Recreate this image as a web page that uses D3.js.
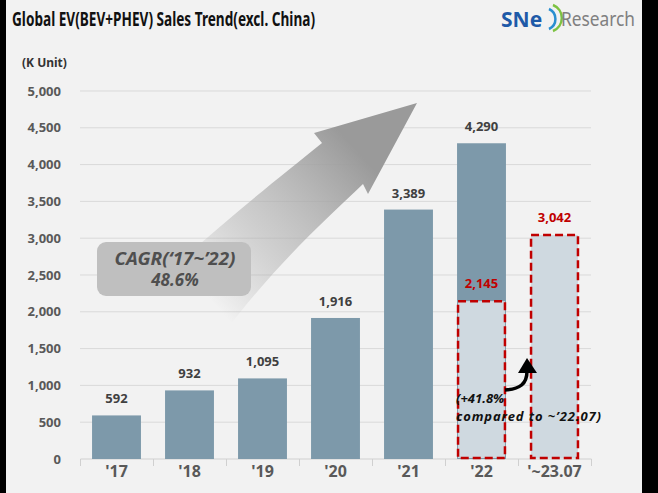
<!DOCTYPE html>
<html>
<head>
<meta charset="utf-8">
<script src="https://cdn.jsdelivr.net/npm/d3@7"></script>
<style>
  html, body { margin: 0; padding: 0; background: #000; }
  svg { display: block; }
</style>
</head>
<body>
<svg id="chart" width="658" height="493"></svg>
<script>
const categories = ["'17", "'18", "'19", "'20", "'21", "'22", "'~23.07"];
const annualValues = [592, 932, 1095, 1916, 3389, 4290, null];
const ytdValues = [null, null, null, null, null, 2145, 3042];
const yTicks = [0, 500, 1000, 1500, 2000, 2500, 3000, 3500, 4000, 4500, 5000];
const titleText = "Global EV(BEV+PHEV)  Sales Trend(excl. China)";
const unitText = "(K Unit)";
const cagrLines = ["CAGR(\u201817~\u201922)", "48.6%"];
const noteLines = ["(+41.8%", "compared to ~\u201922.07)"];

const svg = d3.select("#chart");
const font = "'Noto Sans', 'Open Sans', sans-serif";

// frame
svg.append("rect").attr("x", 6).attr("y", 0).attr("width", 636).attr("height", 493).attr("fill", "#f2f2f2");

const x = d3.scaleBand().domain(categories).range([80, 591]).paddingInner(0.33).paddingOuter(0.165);
const y = d3.scaleLinear().domain([0, 5000]).range([459, 91]);

// gridlines
svg.append("g").selectAll("line").data(yTicks.filter(d => d > 0)).join("line")
  .attr("x1", 80).attr("x2", 591)
  .attr("y1", d => y(d)).attr("y2", d => y(d))
  .attr("stroke", "#d9d9d9").attr("stroke-width", 1);

// y axis labels
const yAxis = d3.axisLeft(y).tickValues(yTicks).tickFormat(d3.format(",")).tickSize(0).tickPadding(0);
const yg = svg.append("g").attr("transform", "translate(61,0)").call(yAxis);
yg.select(".domain").remove();
yg.selectAll("text").attr("font-family", font).attr("font-size", 13).attr("font-weight", "bold").attr("fill", "#595959");

// x axis
const step = x.step();
const xAxis = d3.axisBottom(x).tickSize(0).tickPadding(0);
const xg = svg.append("g").attr("transform", "translate(0,459)").call(xAxis);
xg.select(".domain").attr("stroke", "#d0d0d0").attr("d", "M80.5,0H591.5");
xg.selectAll("text").attr("font-family", font).attr("font-size", 16).attr("font-weight", "bold")
  .attr("fill", "#595959").attr("dy", "1.15em");
// band-boundary ticks
svg.append("g").selectAll("line").data(d3.range(categories.length + 1)).join("line")
  .attr("x1", i => 80 + i * step + 0.5).attr("x2", i => 80 + i * step + 0.5)
  .attr("y1", 459).attr("y2", 466).attr("stroke", "#d0d0d0");

// CAGR arrow with gradient
const defs = svg.append("defs");
const grad = defs.append("linearGradient").attr("id", "arrowGrad")
  .attr("gradientUnits", "userSpaceOnUse")
  .attr("x1", 215).attr("y1", 305).attr("x2", 370).attr("y2", 165);
grad.append("stop").attr("offset", 0).attr("stop-color", "#a0a0a0").attr("stop-opacity", 0);
grad.append("stop").attr("offset", 0.45).attr("stop-color", "#b0b0b0").attr("stop-opacity", 0.6);
grad.append("stop").attr("offset", 1).attr("stop-color", "#9a9a9a").attr("stop-opacity", 1);
svg.append("path")
  .attr("d", "M417,103 L368,194 L363,184 C320,225 270,270 215,345 L140,300 C200,240 270,185 322,143 L314,133 Z")
  .attr("fill", "url(#arrowGrad)");

// bars
const bw = x.bandwidth();
const barData = categories.map((c, i) => ({ c, v: annualValues[i], ytd: ytdValues[i] }));
svg.append("g").selectAll("rect").data(barData.filter(d => d.v != null)).join("rect")
  .attr("x", d => x(d.c)).attr("width", bw)
  .attr("y", d => y(d.v)).attr("height", d => y(0) - y(d.v))
  .attr("fill", "#7d99aa");

svg.append("g").selectAll("rect").data(barData.filter(d => d.ytd != null)).join("rect")
  .attr("x", d => x(d.c) + 1).attr("width", bw - 2)
  .attr("y", d => y(d.ytd)).attr("height", d => y(0) - y(d.ytd) - 1)
  .attr("fill", "#cfd9e0")
  .attr("stroke", "#c00000").attr("stroke-width", 2.5).attr("stroke-dasharray", "8,4");

// value labels
svg.append("g").selectAll("text").data(barData.filter(d => d.v != null)).join("text")
  .attr("x", d => x(d.c) + bw / 2).attr("y", d => y(d.v) - 12)
  .attr("text-anchor", "middle").attr("font-family", font).attr("font-size", 13)
  .attr("font-weight", "bold").attr("fill", "#404040")
  .text(d => d3.format(",")(d.v));
svg.append("g").selectAll("text").data(barData.filter(d => d.ytd != null)).join("text")
  .attr("x", d => x(d.c) + bw / 2).attr("y", d => y(d.ytd) - 13)
  .attr("text-anchor", "middle").attr("font-family", font).attr("font-size", 13)
  .attr("font-weight", "bold").attr("fill", "#c00000")
  .text(d => d3.format(",")(d.ytd));

// CAGR box
svg.append("rect").attr("x", 97).attr("y", 242).attr("width", 154).attr("height", 54)
  .attr("rx", 9).attr("fill", "#bfbfbf");
svg.append("g").selectAll("text").data(cagrLines).join("text")
  .attr("x", 175).attr("y", (d, i) => 265 + i * 21)
  .attr("text-anchor", "middle").attr("font-family", font).attr("font-size", 17)
  .attr("font-style", "italic").attr("font-weight", "bold").attr("fill", "#4f4f4f")
  .attr("textLength", (d, i) => i === 0 ? 121 : null).attr("lengthAdjust", "spacingAndGlyphs")
  .text(d => d);

// annotation curved arrow
svg.append("path").attr("d", "M505,390 C520,389 527,384 527,371")
  .attr("fill", "none").attr("stroke", "#000").attr("stroke-width", 3.5);
svg.append("path").attr("d", "M527,358 L537,373 L518,373 Z").attr("fill", "#000");
svg.append("g").selectAll("text").data(noteLines).join("text")
  .attr("x", 456).attr("y", (d, i) => 403 + i * 18)
  .attr("font-family", font).attr("font-size", 13).attr("font-weight", "bold")
  .attr("font-style", "italic").attr("fill", "#111")
  .attr("textLength", (d, i) => i === 1 ? 145 : null)
  .text(d => d);

// title
svg.append("text").attr("x", 12).attr("y", 26).attr("font-family", font).attr("font-size", 19)
  .attr("font-weight", "bold").attr("fill", "#111").attr("textLength", 303).attr("lengthAdjust", "spacingAndGlyphs")
  .text(titleText);
svg.append("text").attr("x", 22).attr("y", 67).attr("font-family", font).attr("font-size", 12)
  .attr("font-weight", "bold").attr("fill", "#333").text(unitText);

// logo
const logo = svg.append("g");
logo.append("text").attr("x", 501).attr("y", 27).attr("font-family", font).attr("font-size", 21)
  .attr("font-weight", "bold").attr("fill", "#1e5aa8").text("SNe");
logo.append("path").attr("d", "M549,9 A11,11 0 0 1 549,29").attr("fill", "none").attr("stroke", "#2a8fd0").attr("stroke-width", 2.5);
logo.append("path").attr("d", "M553,5 A14,14 0 0 1 553,31").attr("fill", "none").attr("stroke", "#7cc242").attr("stroke-width", 2.5);
logo.append("text").attr("x", 561).attr("y", 26).attr("font-family", font).attr("font-size", 19)
  .attr("fill", "#808080").attr("textLength", 74).attr("lengthAdjust", "spacingAndGlyphs").text("Research");
</script>
</body>
</html>
